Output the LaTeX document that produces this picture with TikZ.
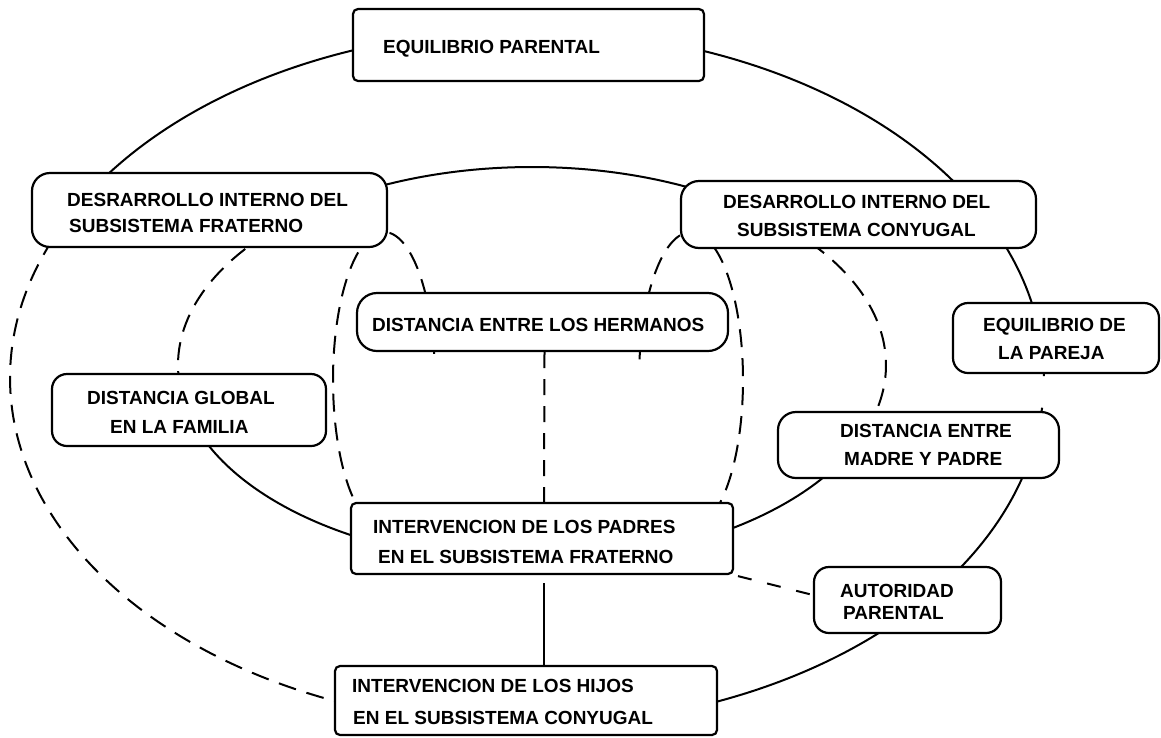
\documentclass[tikz,border=0pt]{standalone}
\usepackage{fontspec}
\setmainfont{Liberation Sans}
\begin{document}
\begin{tikzpicture}[x=1pt,y=-1pt,
  ln/.style={line width=2pt},
  dsh/.style={line width=2pt, dash pattern=on 18pt off 11pt},
  box/.style={draw, line width=2.2pt, fill=white, inner sep=0pt},
  txt/.style={inner sep=0pt, anchor=base west, font=\bfseries\fontsize{19}{23}\selectfont}]
\useasboundingbox (0,0) rectangle (1161,737);
% outer ellipse
\draw[ln] plot[domain=210:359.7, samples=150] ({527+517*cos(\x)},{378+348*sin(\x)});
\draw[ln] plot[domain=364.9:460, samples=100] ({527+517*cos(\x)},{378+348*sin(\x)});
\draw[dsh] plot[domain=100:210, samples=120] ({527+517*cos(\x)},{378+348*sin(\x)});
% inner ellipse
\draw[ln] plot[domain=230:310, samples=80] ({532+354*cos(\x)},{365+198*sin(\x)});
\draw[dsh] plot[domain=-50:25, samples=80] ({532+354*cos(\x)},{365+198*sin(\x)});
\draw[ln] plot[domain=25:165, samples=120] ({532+354*cos(\x)},{365+198*sin(\x)});
\draw[dsh] plot[domain=165:230, samples=70] ({532+354*cos(\x)},{365+198*sin(\x)});
% small central ellipses
\draw[dsh] plot[domain=56:352, samples=150] ({384+51*cos(\x)},{380+148*sin(\x)});
\draw[dsh] plot[domain=188:484, samples=150] ({691+52*cos(\x)},{380+148*sin(\x)});
% boxes
\node[box, rounded corners=5pt, minimum width=351pt, minimum height=72pt] (eqp) at (528.5,45) {};
\node[box, rounded corners=18pt, minimum width=355pt, minimum height=74pt] (fra) at (209.5,210) {};
\node[box, rounded corners=18pt, minimum width=355pt, minimum height=67pt] (con) at (858.5,214.5) {};
\node[box, rounded corners=20pt, minimum width=371pt, minimum height=58pt] (her) at (542.5,322) {};
\node[box, rounded corners=15pt, minimum width=206pt, minimum height=70pt] (par) at (1056,338) {};
\node[box, rounded corners=15pt, minimum width=274pt, minimum height=72pt] (glo) at (189,410) {};
\node[box, rounded corners=18pt, minimum width=281pt, minimum height=66pt] (mad) at (918.5,445) {};
\node[box, rounded corners=5pt, minimum width=382pt, minimum height=71pt] (pad) at (542,538.5) {};
\node[box, rounded corners=15pt, minimum width=187pt, minimum height=66pt] (aut) at (907.5,600) {};
\node[box, rounded corners=5pt, minimum width=382pt, minimum height=69pt] (hij) at (526,700.5) {};
% texts
\node[txt] (eqpT) at (383,53.8) {EQUILIBRIO PARENTAL};
\node[txt] (fraT1) at (67,206.8) {DESRARROLLO INTERNO DEL};
\node[txt] (fraT2) at (69,232.8) {SUBSISTEMA FRATERNO};
\node[txt] (conT1) at (723,208.8) {DESARROLLO INTERNO DEL};
\node[txt] (conT2) at (737,236.8) {SUBSISTEMA CONYUGAL};
\node[txt] (herT) at (372,331.8) {DISTANCIA ENTRE LOS HERMANOS};
\node[txt] (parT1) at (983,331.8) {EQUILIBRIO DE};
\node[txt] (parT2) at (998,359.8) {LA PAREJA};
\node[txt] (gloT1) at (87,404.8) {DISTANCIA GLOBAL};
\node[txt] (gloT2) at (110,433.8) {EN LA FAMILIA};
\node[txt] (madT1) at (840,437.8) {DISTANCIA ENTRE};
\node[txt] (madT2) at (844,465.8) {MADRE Y PADRE};
\node[txt] (padT1) at (373,533.8) {INTERVENCION DE LOS PADRES};
\node[txt] (padT2) at (378,563.8) {EN EL SUBSISTEMA FRATERNO};
\node[txt] (autT1) at (840,597.8) {AUTORIDAD};
\node[txt] (autT2) at (843,619.8) {PARENTAL};
\node[txt] (hijT1) at (352,692.8) {INTERVENCION DE LOS HIJOS};
\node[txt] (hijT2) at (353,724.8) {EN EL SUBSISTEMA CONYUGAL};
% straight connectors
\draw[line width=2pt, dash pattern=on 16pt off 11pt] ([xshift=2pt]her.south) -- ([xshift=2pt]pad.north);
\draw[ln, shorten <=8pt] ([xshift=2pt]pad.south) -- ([xshift=2pt]pad.south |- hij.north);
\draw[line width=2pt, dash pattern=on 0pt off 4pt on 14pt off 12pt] (pad.south east) -- ([yshift=5pt]aut.west);
\end{tikzpicture}
\end{document}
